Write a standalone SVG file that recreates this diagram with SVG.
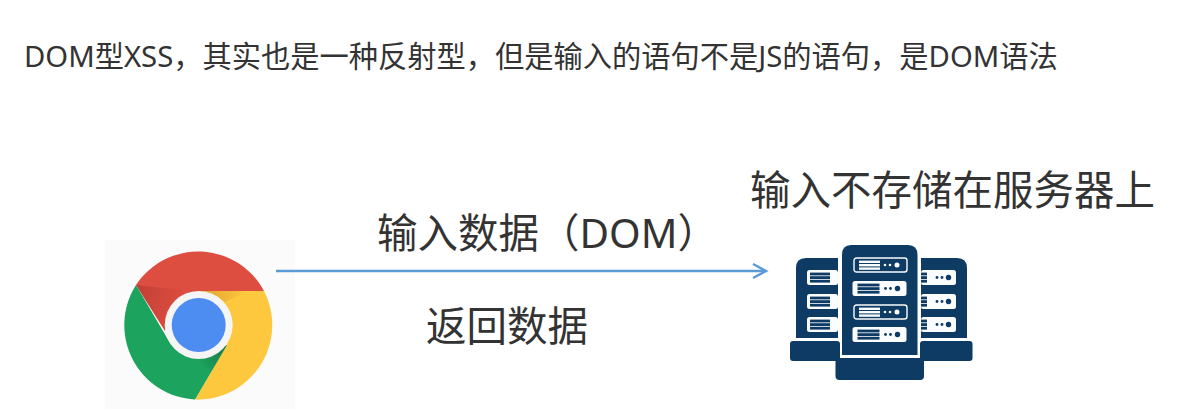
<svg xmlns="http://www.w3.org/2000/svg" width="1196" height="412" viewBox="0 0 1196 412">
<style>
text{font-family:"Noto Sans","Noto Sans CJK SC",sans-serif;fill:#333}
.t{font-size:29.250px}.b{font-size:40.500px}
.n{fill:#0b3a63}.w{fill:#fbfcfd}.s{fill:#0b3a63}
</style>
<defs>
<filter id="soft" x="-5%" y="-5%" width="110%" height="110%"><feGaussianBlur stdDeviation="0.500"/></filter>
<linearGradient id="shr" x1="0" y1="0" x2="1" y2="0.300"><stop offset="0" stop-color="#b73a33" stop-opacity=".75"/><stop offset="1" stop-color="#b73a33" stop-opacity="0"/></linearGradient>
<linearGradient id="shy" x1="0" y1="0" x2="1" y2="0"><stop offset="0" stop-color="#d99a2b" stop-opacity=".8"/><stop offset="1" stop-color="#d99a2b" stop-opacity="0"/></linearGradient>
<linearGradient id="shg" x1="1" y1="0" x2="0" y2="0.600"><stop offset="0" stop-color="#14633c" stop-opacity=".7"/><stop offset="1" stop-color="#14633c" stop-opacity="0"/></linearGradient>
<g id="slot"><rect width="54" height="15" rx="2.500" class="w"/><rect x="5" y="2.600" width="22" height="2.800" class="s"/><rect x="5" y="6.200" width="22" height="2.800" class="s"/><rect x="5" y="9.800" width="22" height="2.800" class="s"/><circle cx="33" cy="7.500" r="1.400" class="s"/><circle cx="38" cy="7.500" r="1.400" class="s"/><circle cx="45" cy="7.500" r="2.700" class="s"/></g>
<g id="slotd"><rect width="53" height="14" rx="2.500" class="s" stroke="#fbfcfd" stroke-width="1.400"/><rect x="5" y="2.600" width="21" height="2.400" class="w"/><rect x="5" y="6" width="21" height="2.400" class="w"/><rect x="5" y="9.400" width="21" height="2.400" class="w"/><circle cx="31" cy="7" r="1.300" class="w"/><circle cx="36" cy="7" r="1.300" class="w"/><circle cx="43" cy="7" r="2.500" class="w"/></g>
<marker id="ah" markerUnits="userSpaceOnUse" markerWidth="20" markerHeight="18" refX="17" refY="9" orient="auto"><path d="M4 2L17 9L4 16" fill="none" stroke="#5b9bd5" stroke-width="2.500"/></marker>
</defs>
<rect width="1196" height="412" fill="#fff"/>
<g id="title"><text class="t" x="24" y="67">DOM型XSS，其实也是一种反射型，但是输入的语句不是JS的语句，是DOM语法</text></g>
<g id="browser">
<rect x="105" y="240" width="190" height="169" fill="#fbfbfb"/>
<g filter="url(#soft)">
<path d="M136 285A74.500 74.500 0 0 1 264 291H198.500L165 331Z" fill="#dd4d3f"/>
<path d="M136 285L165 331L180 312L182 290Z" fill="url(#shr)"/>
<path d="M264 291A74.500 74.500 0 0 1 195 399.500L227 345L198.500 291Z" fill="#fdc83e"/>
<path d="M198.500 291H248L225 302Z" fill="url(#shy)"/>
<path d="M136 285L170 343L198 358L227 345L195 399.500A74.500 74.500 0 0 1 136 285Z" fill="#1fa45f"/>
<path d="M227 345L212 371L195 360Z" fill="url(#shg)"/>
<circle cx="198.700" cy="325" r="34" fill="#f4f5f4"/>
<circle cx="198.700" cy="325" r="27" fill="#4e8cf0"/>
</g>
</g>
<g id="server" filter="url(#soft)">
<path class="n" d="M806 258H838V338H796V268Q796 258 806 258ZM921 258H957Q967 258 967 268V338H921Z"/>
<rect class="n" x="790" y="341" width="50" height="20" rx="3"/>
<rect class="n" x="920" y="341" width="52.500" height="20" rx="3"/>
<path class="n" d="M851 245H908Q917.500 245 917.500 255V355H842V255Q842 245 851 245Z"/>
<rect class="n" x="835.500" y="358" width="88.500" height="22" rx="4"/>
<g id="ls"><rect x="807" y="270" width="31" height="15" rx="2.500" class="w"/><rect x="810" y="272.600" width="20" height="2.800" class="s"/><rect x="810" y="276.200" width="20" height="2.800" class="s"/><rect x="810" y="279.800" width="20" height="2.800" class="s"/></g>
<use href="#ls" y="24"/>
<use href="#ls" y="47"/>
<use href="#slotd" x="854" y="258"/>
<use href="#slot" x="852.500" y="281"/>
<use href="#slotd" x="854" y="305"/>
<use href="#slot" x="852.500" y="327"/>
<g id="rs"><rect x="921" y="270" width="35" height="15" rx="2.500" class="w"/><rect x="921" y="272.600" width="6" height="2.800" class="s"/><rect x="921" y="276.200" width="6" height="2.800" class="s"/><rect x="921" y="279.800" width="6" height="2.800" class="s"/><circle cx="937" cy="277.500" r="1.400" class="s"/><circle cx="942" cy="277.500" r="1.400" class="s"/><circle cx="948.500" cy="277.500" r="2.700" class="s"/></g>
<use href="#rs" y="24"/>
<use href="#rs" y="47"/>
</g>
<g id="connectors"><line x1="276" y1="271" x2="766" y2="271" stroke="#5b9bd5" stroke-width="2.500" marker-end="url(#ah)"/></g>
<g id="label-server"><text class="b" x="750" y="205">输入不存储在服务器上</text></g>
<g id="label-in"><text class="b" x="377" y="248">输入数据（DOM）</text></g>
<g id="label-out"><text class="b" x="426" y="341">返回数据</text></g>
</svg>
